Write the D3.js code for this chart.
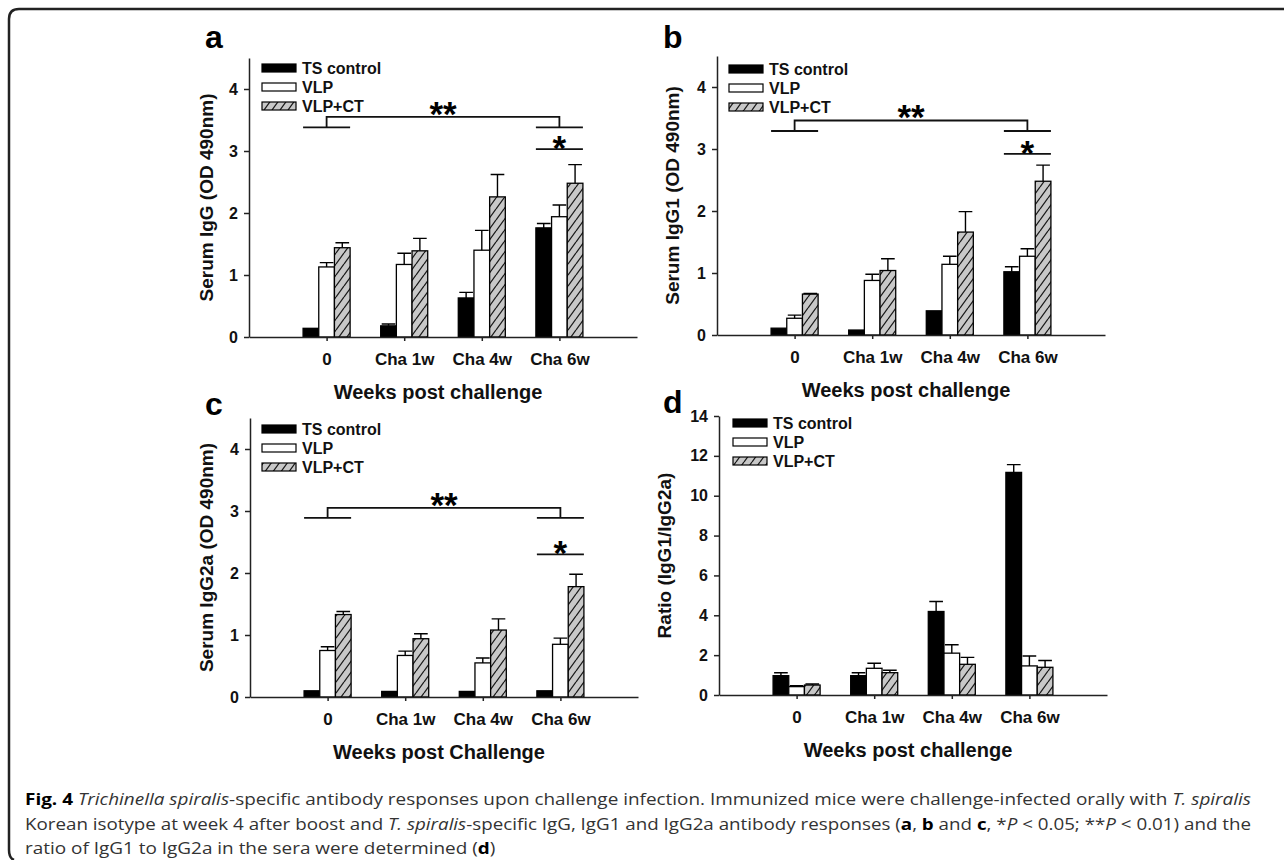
<!DOCTYPE html>
<html>
<head>
<meta charset="utf-8">
<script src="https://cdn.jsdelivr.net/npm/d3@7"></script>
<style>
  body { margin: 0; background: #fff; }
  svg { display: block; }
</style>
</head>
<body>
<script>
// Categories and series
var groups = ["0", "Cha 1w", "Cha 4w", "Cha 6w"];
var seriesNames = ["TS control", "VLP", "VLP+CT"];

// Tick values
var odTicks = [0, 1, 2, 3, 4];
var ratioTicks = [0, 2, 4, 6, 8, 10, 12, 14];

// a - Serum IgG, rows: TS control, VLP, VLP+CT
var iggMean = [[0.14, 0.18, 0.63, 1.76], [1.13, 1.17, 1.40, 1.94], [1.44, 1.39, 2.26, 2.48]];
var iggSem  = [[0.00, 0.03, 0.09, 0.07], [0.07, 0.18, 0.32, 0.19], [0.08, 0.20, 0.36, 0.30]];
// bracket top, bracket legs, single-star line
var iggSig = [3.55, 3.38, 3.03];

// b - Serum IgG1
var igg1Mean = [[0.11, 0.08, 0.39, 1.02], [0.27, 0.88, 1.14, 1.27], [0.66, 1.04, 1.66, 2.48]];
var igg1Sem  = [[0.00, 0.00, 0.00, 0.08], [0.05, 0.10, 0.13, 0.12], [0.01, 0.19, 0.33, 0.26]];
var igg1Sig = [3.46, 3.29, 2.92];

// c - Serum IgG2a
var igg2aMean = [[0.10, 0.09, 0.09, 0.10], [0.75, 0.67, 0.55, 0.85], [1.33, 0.94, 1.08, 1.78]];
var igg2aSem  = [[0.00, 0.00, 0.00, 0.00], [0.06, 0.07, 0.08, 0.10], [0.05, 0.08, 0.18, 0.20]];
var igg2aSig = [3.05, 2.89, 2.30];

// d - Ratio IgG1/IgG2a
var ratioMean = [[0.97, 0.97, 4.19, 11.17], [0.42, 1.34, 2.10, 1.46], [0.50, 1.12, 1.54, 1.39]];
var ratioSem  = [[0.15, 0.15, 0.50, 0.39], [0.05, 0.25, 0.42, 0.50], [0.05, 0.12, 0.35, 0.34]];

var font = "Arial, 'Liberation Sans', sans-serif";
var plotW = 388, plotH = 279;

var panels = [
  {id: "a", ox: 249, oy: 337, ymax: 4.5, ticks: odTicks, mean: iggMean, sem: iggSem, sig: iggSig,
   yTitle: "Serum IgG (OD 490nm)", xTitle: "Weeks post challenge", lx: 205, ly: 48, legX: 13, legY: 10, titleOff: 36},
  {id: "b", ox: 717, oy: 335, ymax: 4.5, ticks: odTicks, mean: igg1Mean, sem: igg1Sem, sig: igg1Sig,
   yTitle: "Serum IgG1 (OD 490nm)", xTitle: "Weeks post challenge", lx: 663, ly: 48, legX: 12, legY: 13, titleOff: 38},
  {id: "c", ox: 250, oy: 697, ymax: 4.5, ticks: odTicks, mean: igg2aMean, sem: igg2aSem, sig: igg2aSig,
   yTitle: "Serum IgG2a (OD 490nm)", xTitle: "Weeks post Challenge", lx: 205, ly: 415, legX: 12, legY: 11, titleOff: 37},
  {id: "d", ox: 719, oy: 695, ymax: 14, ticks: ratioTicks, mean: ratioMean, sem: ratioSem, sig: null,
   yTitle: "Ratio (IgG1/IgG2a)", xTitle: "Weeks post challenge", lx: 663, ly: 413, legX: 14, legY: 7, titleOff: 48}
];

var svg = d3.select("body").append("svg")
    .attr("width", 1284)
    .attr("height", 860);

svg.append("rect").attr("width", 1284).attr("height", 860).attr("fill", "#fff");

// hatch pattern for VLP+CT
var pat = svg.append("defs").append("pattern")
    .attr("id", "hatch")
    .attr("patternUnits", "userSpaceOnUse")
    .attr("width", 8)
    .attr("height", 11);
pat.append("rect").attr("width", 8).attr("height", 11).attr("fill", "#c8c8c8");
pat.append("path")
    .attr("d", "M-8,11L0,0M0,11L8,0M8,11L16,0")
    .attr("stroke", "#1a1a1a")
    .attr("stroke-width", 1.3);

var fills = ["#000", "#fff", "url(#hatch)"];

// outer frame
svg.append("path")
    .attr("d", "M1284,9 L19,9 Q9,9 9,19 L9,850 Q9,858 14,860")
    .attr("fill", "none")
    .attr("stroke", "#222")
    .attr("stroke-width", 2.5);

panels.forEach(function(p) {
    var g = svg.append("g");

    var x = d3.scalePoint()
        .domain(["_l"].concat(groups).concat(["_r"]))
        .range([p.ox, p.ox + plotW]);
    var y = d3.scaleLinear()
        .domain([0, p.ymax])
        .range([p.oy, p.oy - plotH]);

    var step = x.step();
    var bw = step * 0.202;

    // bars
    p.mean.forEach(function(row, s) {
        g.selectAll(null)
            .data(row)
            .enter()
            .append("rect")
            .attr("x", function(d, i) { return x(groups[i]) + (s - 1.5) * bw; })
            .attr("y", function(d) { return y(d); })
            .attr("width", bw)
            .attr("height", function(d) { return y(0) - y(d); })
            .attr("fill", fills[s])
            .attr("stroke", "#000")
            .attr("stroke-width", 1.3);

        // error bars (upper only)
        row.forEach(function(d, i) {
            var e = p.sem[s][i];
            if (e <= 0) return;
            var cx = x(groups[i]) + (s - 1) * bw;
            g.append("path")
                .attr("d", "M" + cx + "," + y(d) + "V" + y(d + e) +
                    "M" + (cx - bw / 2 + 1) + "," + y(d + e) + "H" + (cx + bw / 2 - 1))
                .attr("fill", "none")
                .attr("stroke", "#000")
                .attr("stroke-width", 1.4);
        });
    });

    // axes
    var yAxis = g.append("g")
        .attr("transform", "translate(" + p.ox + ",0)")
        .call(d3.axisLeft(y).tickValues(p.ticks).tickSize(5).tickSizeOuter(0).tickPadding(6).tickFormat(d3.format("d")));
    var xAxis = g.append("g")
        .attr("transform", "translate(0," + p.oy + ")")
        .call(d3.axisBottom(x).tickValues(groups).tickSize(4).tickSizeOuter(0).tickPadding(12));

    [yAxis, xAxis].forEach(function(a) {
        a.selectAll("path, line").attr("stroke", "#222").attr("stroke-width", 1.5);
        a.selectAll("text")
            .attr("fill", "#111")
            .style("font-family", font)
            .style("font-weight", "bold")
            .style("font-size", "16px");
    });
    xAxis.selectAll("text").style("font-size", "17px");

    // axis titles
    g.append("text")
        .attr("transform", "translate(" + (p.ox - p.titleOff) + "," + (p.oy - plotH / 2) + ") rotate(-90)")
        .attr("text-anchor", "middle")
        .style("font-family", font)
        .style("font-weight", "bold")
        .style("font-size", "19px")
        .attr("fill", "#111")
        .text(p.yTitle);

    g.append("text")
        .attr("x", p.ox + plotW / 2 - 5)
        .attr("y", p.oy + 62)
        .attr("text-anchor", "middle")
        .style("font-family", font)
        .style("font-weight", "bold")
        .style("font-size", "20px")
        .attr("fill", "#111")
        .text(p.xTitle);

    // panel letter
    g.append("text")
        .attr("x", p.lx)
        .attr("y", p.ly)
        .style("font-family", font)
        .style("font-weight", "bold")
        .style("font-size", "32px")
        .attr("fill", "#000")
        .text(p.id);

    // legend
    var top = p.oy - plotH;
    seriesNames.forEach(function(name, s) {
        var cy = top + p.legY + s * 19;
        var lx = p.ox + p.legX;
        g.append("rect")
            .attr("x", lx)
            .attr("y", cy - 4)
            .attr("width", 34)
            .attr("height", 8)
            .attr("fill", fills[s])
            .attr("stroke", "#000")
            .attr("stroke-width", 1.2);
        g.append("text")
            .attr("x", lx + 40)
            .attr("y", cy)
            .attr("dy", "0.36em")
            .style("font-family", font)
            .style("font-weight", "bold")
            .style("font-size", "16px")
            .attr("fill", "#111")
            .text(name);
    });

    // significance brackets
    if (p.sig) {
        var first = x(groups[0]), last = x(groups[3]);
        var half = bw * 1.5;
        var yTop = y(p.sig[0]), yLeg = y(p.sig[1]), yStar = y(p.sig[2]);
        g.append("path")
            .attr("d",
                "M" + (first - half) + "," + yLeg + "H" + (first + half) +
                "M" + first + "," + yLeg + "V" + yTop + "H" + last + "V" + yLeg +
                "M" + (last - half) + "," + yLeg + "H" + (last + half) +
                "M" + (last - half) + "," + yStar + "H" + (last + half))
            .attr("fill", "none")
            .attr("stroke", "#111")
            .attr("stroke-width", 1.8);
        g.append("text")
            .attr("x", (first + last) / 2)
            .attr("y", yTop + 9)
            .attr("text-anchor", "middle")
            .style("font-family", font)
            .style("font-weight", "bold")
            .style("font-size", "35px")
            .text("**");
        g.append("text")
            .attr("x", last)
            .attr("y", yStar + 11)
            .attr("text-anchor", "middle")
            .style("font-family", font)
            .style("font-weight", "bold")
            .style("font-size", "35px")
            .text("*");
    }
});

// caption
var captionLines = [
    [["Fig. 4", "b"], [" ", ""], ["Trichinella spiralis", "i"],
     ["-specific antibody responses upon challenge infection. Immunized mice were challenge-infected orally with ", ""],
     ["T. spiralis", "i"]],
    [["Korean isotype at week 4 after boost and ", ""], ["T. spiralis", "i"],
     ["-specific IgG, IgG1 and IgG2a antibody responses (", ""], ["a", "b"], [", ", ""], ["b", "b"], [" and ", ""],
     ["c", "b"], [", *", ""], ["P", "i"], [" < 0.05; **", ""], ["P", "i"], [" < 0.01) and the", ""]],
    [["ratio of IgG1 to IgG2a in the sera were determined (", ""], ["d", "b"], [")", ""]]
];
var captionY = [805, 830, 854];
var captionX = 25, captionEnd = 1251;

var capNodes = captionLines.map(function(parts, li) {
    var t = svg.append("text")
        .attr("x", captionX)
        .attr("y", captionY[li])
        .style("font-family", "'Open Sans', 'Noto Sans', sans-serif")
        .style("font-size", "16.5px")
        .attr("fill", "#333");
    parts.forEach(function(pt) {
        t.append("tspan")
            .style("font-weight", pt[1] == "b" ? "bold" : "normal")
            .style("font-style", pt[1] == "i" ? "italic" : "normal")
            .attr("fill", pt[1] == "b" ? "#000" : null)
            .text(pt[0]);
    });
    return t;
});

// squeeze to the condensed look of the original
var natural0 = capNodes[0].node().getComputedTextLength();
var squeeze = (captionEnd - captionX) / natural0;
capNodes.forEach(function(t, i) {
    var w = i < 2 ? (captionEnd - captionX) : t.node().getComputedTextLength() * squeeze;
    t.attr("textLength", w).attr("lengthAdjust", "spacingAndGlyphs");
});
</script>
</body>
</html>
